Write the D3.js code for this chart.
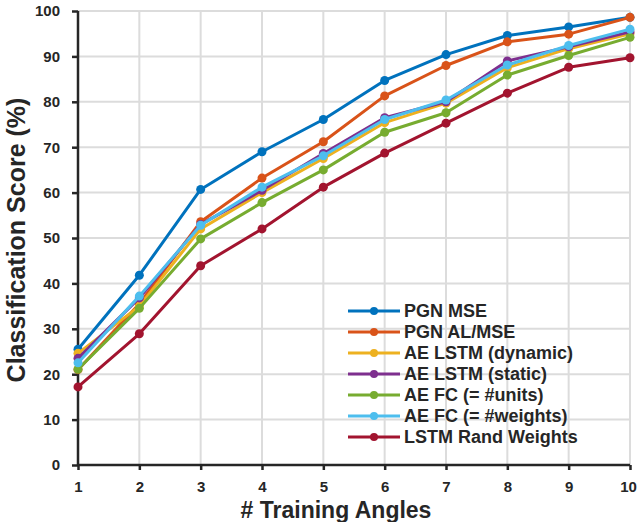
<!DOCTYPE html>
<html>
<head>
<meta charset="utf-8">
<script src="https://cdn.jsdelivr.net/npm/d3@7"></script>
<style>
  body { margin: 0; background: #fff; }
  svg text { font-family: "Liberation Sans", Arial, sans-serif; font-weight: bold; fill: #262626; }
</style>
</head>
<body>
<div id="chart"></div>
<script>
// number of training angles
var angles = [1, 2, 3, 4, 5, 6, 7, 8, 9, 10];

var seriesNames = ["PGN MSE", "PGN AL/MSE", "AE LSTM (dynamic)", "AE LSTM (static)",
                   "AE FC (= #units)", "AE FC (= #weights)", "LSTM Rand Weights"];
var seriesColors = ["#0072BD", "#D95319", "#EDB120", "#7E2F8E", "#77AC30", "#4DBEEE", "#A2142F"];

var pgnMse     = [25.5, 41.8, 60.7, 69.0, 76.1, 84.7, 90.4, 94.6, 96.5, 98.6];
var pgnAlMse   = [21.0, 35.5, 53.6, 63.2, 71.2, 81.3, 88.0, 93.2, 94.9, 98.6];
var aeLstmDyn  = [24.6, 35.0, 52.0, 60.0, 67.5, 75.4, 79.7, 87.5, 91.7, 95.0];
var aeLstmStat = [23.5, 36.8, 53.0, 60.5, 68.6, 76.5, 80.0, 89.0, 92.1, 95.4];
var aeFcUnits  = [21.1, 34.5, 49.8, 57.8, 65.0, 73.3, 77.6, 85.9, 90.2, 94.2];
var aeFcWts    = [22.5, 37.2, 52.8, 61.2, 68.1, 76.1, 80.4, 88.1, 92.4, 96.0];
var lstmRand   = [17.2, 28.9, 43.9, 52.0, 61.2, 68.7, 75.3, 81.9, 87.6, 89.7];

var seriesValues = [pgnMse, pgnAlMse, aeLstmDyn, aeLstmStat, aeFcUnits, aeFcWts, lstmRand];
var yTicks = [0, 10, 20, 30, 40, 50, 60, 70, 80, 90, 100];

var width = 637, height = 522;
var margin = {left: 78, right: 7, top: 11, bottom: 57};

var svg = d3.select("#chart").append("svg")
  .attr("width", width)
  .attr("height", height);

var x = d3.scaleLinear().domain([1, 10]).range([margin.left, width - margin.right]);
var y = d3.scaleLinear().domain([0, 100]).range([height - margin.bottom, margin.top]);

// grid
svg.append("g").selectAll("line.gy")
  .data(yTicks).enter().append("line")
  .attr("x1", x(1)).attr("x2", x(10))
  .attr("y1", function(d){ return y(d); }).attr("y2", function(d){ return y(d); })
  .attr("stroke", "#dcdcdc").attr("stroke-width", 2);
svg.append("g").selectAll("line.gx")
  .data(angles).enter().append("line")
  .attr("x1", function(d){ return x(d); }).attr("x2", function(d){ return x(d); })
  .attr("y1", y(0)).attr("y2", y(100))
  .attr("stroke", "#dcdcdc").attr("stroke-width", 2);

// axes
var yAxis = svg.append("g")
  .attr("transform", "translate(" + margin.left + ",0)")
  .call(d3.axisLeft(y).tickValues(yTicks).tickSize(6).tickPadding(12));
var xAxis = svg.append("g")
  .attr("transform", "translate(0," + y(0) + ")")
  .call(d3.axisBottom(x).tickValues(angles).tickSize(5).tickPadding(11).tickFormat(d3.format("d")));

[xAxis, yAxis].forEach(function(a){
  a.select(".domain").attr("stroke", "#262626").attr("stroke-width", 2.5);
  a.selectAll(".tick line").attr("stroke", "#262626").attr("stroke-width", 2.5);
  a.selectAll(".tick text").style("font-size", "15px").attr("fill", "#262626");
});
xAxis.select(".domain").attr("d", "M" + x(1) + ",0H" + x(10));
yAxis.select(".domain").attr("d", "M0," + y(0) + "V" + y(100));
// keep the last x label inside the window
xAxis.selectAll(".tick text").filter(function(d){ return d === 10; }).attr("dx", -2);

// axis labels
svg.append("text")
  .attr("x", (x(1) + x(10)) / 2 - 18).attr("y", 518)
  .attr("text-anchor", "middle")
  .style("font-size", "23px")
  .text("# Training Angles");
svg.append("text")
  .attr("transform", "translate(25,240) rotate(-90)")
  .attr("text-anchor", "middle")
  .style("font-size", "25px")
  .text("Classification Score (%)");

// lines
var line = d3.line()
  .x(function(d, i){ return x(angles[i]); })
  .y(function(d){ return y(d); });

seriesValues.forEach(function(vals, s){
  var g = svg.append("g");
  g.append("path")
    .attr("d", line(vals))
    .attr("fill", "none")
    .attr("stroke", seriesColors[s])
    .attr("stroke-width", 3)
    .attr("stroke-linejoin", "round");
  g.selectAll("circle")
    .data(vals).enter().append("circle")
    .attr("cx", function(d, i){ return x(angles[i]); })
    .attr("cy", function(d){ return y(d); })
    .attr("r", 4.5)
    .attr("fill", seriesColors[s]);
});

// legend
var legend = svg.append("g").attr("transform", "translate(348,311)");
seriesNames.forEach(function(name, i){
  var row = legend.append("g").attr("transform", "translate(0," + (i * 21) + ")");
  row.append("line")
    .attr("x1", 0).attr("x2", 52).attr("y1", 0).attr("y2", 0)
    .attr("stroke", seriesColors[i]).attr("stroke-width", 3);
  row.append("circle")
    .attr("cx", 26).attr("cy", 0).attr("r", 4)
    .attr("fill", seriesColors[i]);
  row.append("text")
    .attr("x", 56).attr("y", 0).attr("dy", "0.36em")
    .style("font-size", "18px")
    .text(name);
});
</script>
</body>
</html>
